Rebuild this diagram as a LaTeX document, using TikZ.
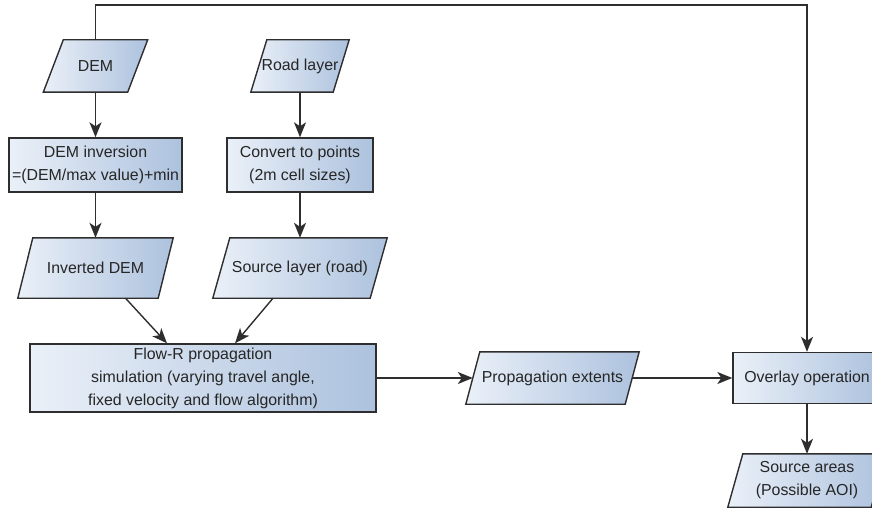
\documentclass[tikz,border=0pt]{standalone}
\usepackage{fontspec}
\setmainfont{Liberation Sans}
\usetikzlibrary{arrows.meta}
\pgfdeclarelayer{background}
\pgfsetlayers{background,main}

\definecolor{linec}{HTML}{2E2E2E}
\definecolor{textc}{HTML}{262626}
\definecolor{fillL}{HTML}{EAF0F8}
\definecolor{fillR}{HTML}{ADC2DE}

\tikzset{
  base/.style={font=\fontsize{15.9pt}{23pt}\selectfont, text=textc, align=center, inner sep=0pt},
  procbox/.style={base, rectangle, draw=linec, line width=1.4pt, left color=fillL, right color=fillR},
  datanode/.style={base, rectangle, draw=none},
  datafill/.style={draw=linec, line width=1.4pt, left color=fillL, right color=fillR, line join=miter},
  conn/.style={draw=linec, line width=1.4pt, -{Stealth[length=15pt,width=12pt,inset=4pt]}},
}

% slanted data box drawn behind the text node #1 with horizontal offset #2
\newcommand\slantbox[2]{%
  \begin{pgfonlayer}{background}
    \path[datafill]
      ([xshift=-#2/2]#1.south west) -- ([xshift=-#2/2]#1.south east) --
      ([xshift=#2/2]#1.north east) -- ([xshift=#2/2]#1.north west) -- cycle;
  \end{pgfonlayer}}

\begin{document}
\begin{tikzpicture}[x=1pt, y=-1pt]
  \useasboundingbox (0,0) rectangle (872,508);
  \clip (0,0) rectangle (872,508);

  % inputs
  \node[datanode, minimum width=84pt, minimum height=52pt] (dem) at (95.5,66) {DEM};
  \node[datanode, minimum width=82pt, minimum height=52pt] (road) at (300,66) {Road layer};

  % preprocessing
  \node[procbox, minimum width=173pt, minimum height=54pt] (inv) at (95.5,165)
    {DEM inversion\\=(DEM/max value)+min};
  \node[procbox, minimum width=146pt, minimum height=54pt] (conv) at (300,165)
    {Convert to points\\(2m cell sizes)};

  % intermediate layers
  \node[datanode, minimum width=140pt, minimum height=60pt] (invdem) at (95.5,268) {Inverted DEM};
  \node[datanode, minimum width=157pt, minimum height=60pt] (src) at (300,268) {Source layer (road)};

  % simulation
  \node[procbox, minimum width=346pt, minimum height=68pt] (flow) at (203,378)
    {Flow-R propagation\\simulation (varying travel angle,\\fixed velocity and flow algorithm)};

  \node[datanode, minimum width=159pt, minimum height=52pt] (prop) at (552.5,378) {Propagation extents};
  \node[procbox, minimum width=148pt, minimum height=51pt] (over) at (807,378) {Overlay operation};
  \node[datanode, minimum width=143pt, minimum height=53pt] (out) at (807,480.5)
    {Source areas\\(Possible AOI)};

  \slantbox{dem}{20pt}
  \slantbox{road}{16pt}
  \slantbox{invdem}{15pt}
  \slantbox{src}{17pt}
  \slantbox{prop}{14pt}
  \slantbox{out}{15pt}

  % connectors
  \coordinate (loop) at (450,5);
  \draw[conn] (dem.north) |- (loop) -| (over.north);
  \draw[conn] (dem) -- (inv);
  \draw[conn] (road) -- (conv);
  \draw[conn] (inv) -- (invdem);
  \draw[conn] (conv) -- (src);
  \draw[conn] ([xshift=30pt]invdem.south) -- ([xshift=-36pt]flow.north);
  \draw[conn] ([xshift=-27pt]src.south) -- ([xshift=32pt]flow.north);
  \draw[conn] (flow) -- (prop);
  \draw[conn] (prop) -- (over);
  \draw[conn] (over) -- (out);
\end{tikzpicture}
\end{document}
